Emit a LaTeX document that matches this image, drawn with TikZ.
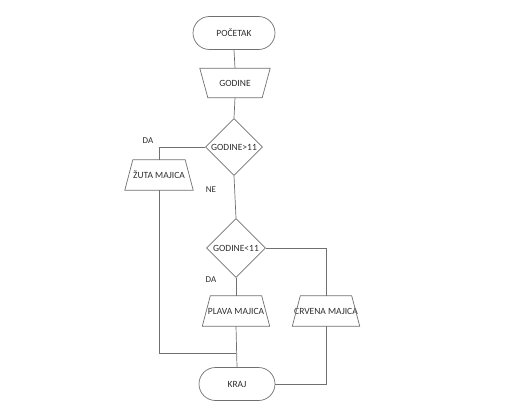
\documentclass[tikz,border=0pt]{standalone}
\usepackage{fontspec}
\setmainfont{Carlito}
\usetikzlibrary{shapes.geometric,shapes.misc}
\definecolor{lc}{HTML}{707070}
\definecolor{tc}{HTML}{2E2E2E}
\begin{document}
\begin{tikzpicture}[x=1pt,y=-1pt,
  every node/.style={font=\fontsize{9.5}{10}\selectfont, text=tc},
  term/.style={draw=lc, line width=0.7pt, rounded rectangle, minimum width=#1, minimum height=33, inner sep=0pt},
  box/.style={minimum width=68, minimum height=30, inner sep=0pt},
  dec/.style={draw=lc, line width=0.7pt, diamond, aspect=1, minimum width=#1, minimum height=#1, inner sep=0pt},
  conn/.style={draw=lc, line width=0.7pt},
  lab/.style={font=\fontsize{9}{10}\selectfont}]
\useasboundingbox (0,0) rectangle (529,417);
\node[term=82] (start) at (234,33) {POČETAK};
\node[box, minimum width=70, minimum height=29] (in) at (235,83) {GODINE};
\node[dec=57] (d1) at (234,147) {};
\node at (d1) {GODINE>11};
\node[box] (zuta) at (159,175) {ŽUTA MAJICA};
\node[dec=59] (d2) at (236,248) {};
\node at (d2) {GODINE<11};
\node[box, minimum width=67] (plava) at (236,311) {PLAVA MAJICA};
\node[box, minimum width=67] (crvena) at (326,311) {CRVENA MAJICA};
\node[term=76] (kraj) at (237,384) {KRAJ};
\node[lab] (da1) at (148,141) {DA};
\node[lab] (ne) at (211,190) {NE};
\node[lab] (da2) at (211,280) {DA};
% trapezoids
\draw[conn] (in.north west) -- (in.north east) -- ([xshift=-8pt]in.south east) -- ([xshift=8pt]in.south west) -- cycle;
\foreach \n in {zuta,plava,crvena}
  \draw[conn] ([xshift=8pt]\n.north west) -- ([xshift=-8pt]\n.north east) -- (\n.south east) -- (\n.south west) -- cycle;
\coordinate (j) at (236,353);
\draw[conn] (start.south) -- (in.north);
\draw[conn] (in.south) -- (d1.north);
\draw[conn] (d1.west) -| (zuta.north);
\draw[conn] (d1.south) -- (d2.north);
\draw[conn] (d2.south) -- (plava.north);
\draw[conn] (d2.east) -| (crvena.north);
\draw[conn] (zuta.south) |- (j);
\draw[conn] (plava.south) -- (kraj.north);
\draw[conn] (crvena.south) |- (kraj.east);
\end{tikzpicture}
\end{document}
